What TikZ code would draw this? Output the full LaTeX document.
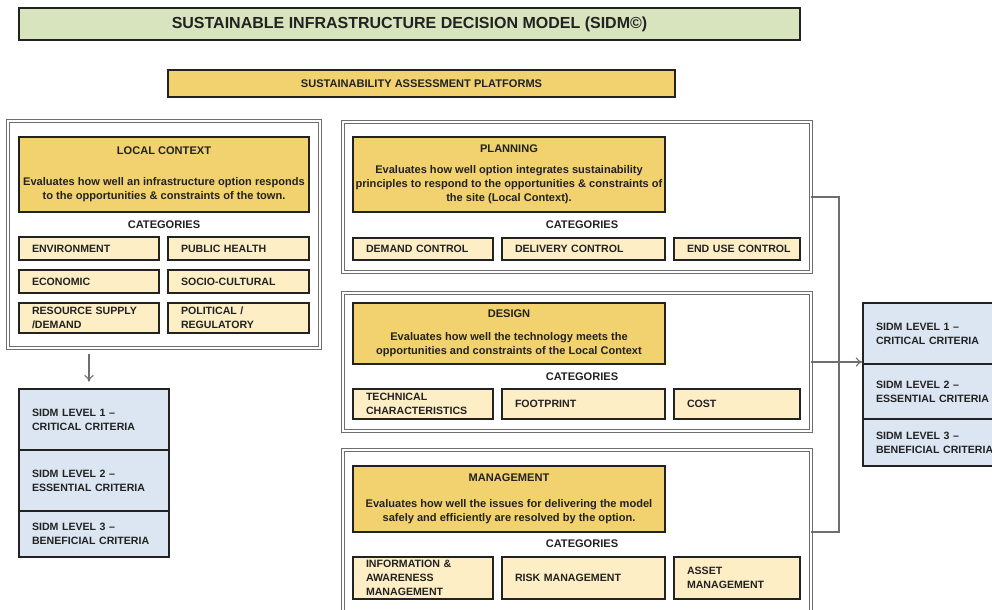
\documentclass[tikz,border=0pt]{standalone}
\usepackage{fontspec}
\setmainfont{Liberation Sans}
\usetikzlibrary{arrows.meta}
\definecolor{gold}{RGB}{242,210,110}
\definecolor{cream}{RGB}{253,238,198}
\definecolor{paleblue}{RGB}{220,230,242}
\definecolor{palegreen}{RGB}{216,228,190}
\definecolor{ink}{RGB}{34,34,34}
\definecolor{framec}{RGB}{110,110,110}
\newcommand\cbx[7]{%
  \pgfmathsetmacro\bxw{(#4-#2)*0.75}\pgfmathsetmacro\bxh{(#5-#3)*0.75}%
  \node[#6, minimum width=\bxw pt, minimum height=\bxh pt] (#1) at ({(#2+#4)/2},{(#3+#5)/2}) {#7};}
\newcommand\lbx[7]{%
  \pgfmathsetmacro\bxt{(#4-#2)*0.75-19.5}\pgfmathsetmacro\bxh{(#5-#3)*0.75}%
  \node[#6, inner xsep=9.75pt, text width=\bxt pt, align=left, minimum height=\bxh pt] (#1) at ({(#2+#4)/2},{(#3+#5)/2}) {#7};}
\tikzset{
  txt/.style={font=\fontsize{8.3}{10.5}\selectfont\bfseries, text=ink},
  stxt/.style={font=\fontsize{7.95}{10.5}\selectfont\bfseries, text=ink},
  titlebox/.style={draw=ink, line width=1.2pt, fill=palegreen, inner sep=0pt, font=\fontsize{12}{14}\selectfont\bfseries, text=ink},
  platbox/.style={draw=ink, line width=1.1pt, fill=gold, inner sep=0pt, txt},
  outerbox/.style={draw=framec, double=white, double distance=1.2pt, line width=0.6pt, inner sep=0pt},
  descbox/.style={draw=ink, line width=1pt, fill=gold, inner sep=0pt, align=center, txt},
  catbox/.style={draw=ink, line width=1.2pt, fill=cream, inner ysep=0pt, stxt},
  lvlbox/.style={draw=ink, line width=0.9pt, fill=paleblue, inner ysep=0pt, stxt},
  cathead/.style={txt, inner sep=0pt},
  conn/.style={draw=framec, line width=0.8pt},
  arr/.style={conn, -{To[length=5pt,width=7pt]}}
}
\begin{document}
\begin{tikzpicture}[x=0.75pt, y=-0.75pt]
\useasboundingbox[fill=white] (0,0) rectangle (992,610);
% title
\cbx{title}{19}{8}{800}{40}{titlebox}{SUSTAINABLE INFRASTRUCTURE DECISION MODEL (SIDM\textcopyright)}
\cbx{plat}{168}{70}{675}{97}{platbox}{SUSTAINABILITY ASSESSMENT PLATFORMS}
% outer frames
\cbx{outLC}{8}{121}{320}{348}{outerbox}{}
\cbx{outP}{343}{122}{811}{272}{outerbox}{}
\cbx{outD}{343}{293}{811}{431}{outerbox}{}
\cbx{outM}{343}{450}{811}{614}{outerbox}{}
% local context
\cbx{lcd}{19}{137}{309}{212}{descbox}{LOCAL CONTEXT\\[13pt]Evaluates how well an infrastructure option responds\\to the opportunities \& constraints of the town.}
\node[cathead] (lccat) at (164,225) {CATEGORIES};
\lbx{env}{19}{237}{159}{260}{catbox}{ENVIRONMENT}
\lbx{ph}{168}{237}{309}{260}{catbox}{PUBLIC HEALTH}
\lbx{eco}{19}{270}{159}{293}{catbox}{ECONOMIC}
\lbx{soc}{168}{270}{309}{293}{catbox}{SOCIO-CULTURAL}
\lbx{res}{19}{303}{159}{333}{catbox}{RESOURCE SUPPLY\\/DEMAND}
\lbx{pol}{168}{303}{309}{333}{catbox}{POLITICAL /\\REGULATORY}
% left levels
\lbx{la1}{19}{389}{169}{450}{lvlbox}{SIDM LEVEL 1 –\\CRITICAL CRITERIA}
\lbx{la2}{19}{450}{169}{511}{lvlbox}{SIDM LEVEL 2 –\\ESSENTIAL CRITERIA}
\lbx{la3}{19}{511}{169}{557}{lvlbox}{SIDM LEVEL 3 –\\BENEFICIAL CRITERIA}
% planning
\cbx{pd}{353}{137}{665}{212}{descbox}{PLANNING\\[5pt]Evaluates how well option integrates sustainability\\principles to respond to the opportunities \& constraints of\\the site (Local Context).}
\node[cathead] (pcat) at (582,225) {CATEGORIES};
\lbx{dem}{353}{238}{493}{260}{catbox}{DEMAND CONTROL}
\lbx{del}{502}{238}{665}{260}{catbox}{DELIVERY CONTROL}
\lbx{end}{674}{238}{800}{260}{catbox}{\mbox{END USE CONTROL}}
% design
\cbx{dd}{353}{303}{665}{364}{descbox}{DESIGN\\[7pt]Evaluates how well the technology meets the\\opportunities and constraints of the Local Context}
\node[cathead] (dcat) at (582,377) {CATEGORIES};
\lbx{tec}{353}{389}{493}{419}{catbox}{TECHNICAL\\CHARACTERISTICS}
\lbx{foot}{502}{389}{665}{419}{catbox}{FOOTPRINT}
\lbx{cost}{674}{389}{800}{419}{catbox}{COST}
% management
\cbx{md}{353}{466}{665}{532}{descbox}{MANAGEMENT\\[9pt]Evaluates how well the issues for delivering the model\\safely and efficiently are resolved by the option.}
\node[cathead] (mcat) at (582,544) {CATEGORIES};
\lbx{info}{353}{557}{493}{599}{catbox}{INFORMATION \&\\AWARENESS\\MANAGEMENT}
\lbx{risk}{502}{557}{665}{599}{catbox}{RISK MANAGEMENT}
\lbx{asset}{674}{557}{800}{599}{catbox}{ASSET\\MANAGEMENT}
% right levels
\lbx{ra1}{863}{303}{1014}{364}{lvlbox}{SIDM LEVEL 1 –\\CRITICAL CRITERIA}
\lbx{ra2}{863}{364}{1014}{419}{lvlbox}{SIDM LEVEL 2 –\\ESSENTIAL CRITERIA}
\lbx{ra3}{863}{419}{1014}{466}{lvlbox}{SIDM LEVEL 3 –\\BENEFICIAL CRITERIA}
% connectors
\coordinate (la) at (89,0);
\coordinate (bx) at (839,0);
\draw[arr, shorten <=4pt, shorten >=5pt] (outLC.south -| la) -- (la1.north -| la);
\draw[conn] (outP.east) -- (outP.east -| bx) -- (outM.east -| bx) -- (outM.east);
\draw[arr] (outD.east) -- (outD.east -| ra1.west);
\end{tikzpicture}
\end{document}
